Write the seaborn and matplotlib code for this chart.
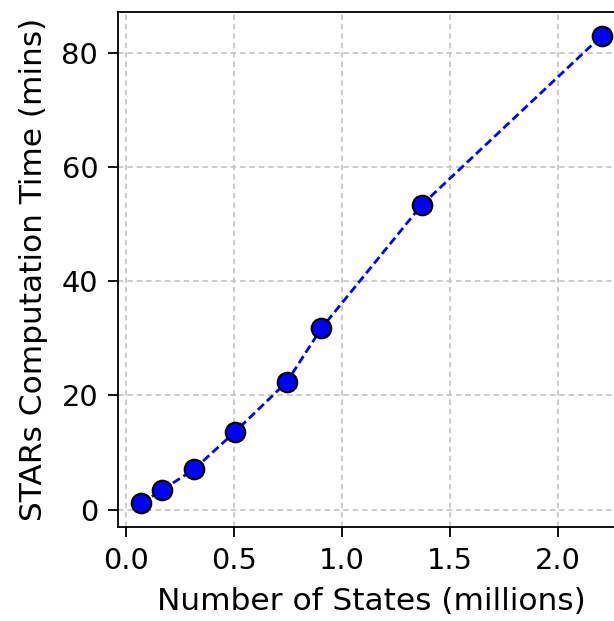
import pandas as pd
import seaborn as sns
import matplotlib
matplotlib.use('Agg')
import matplotlib.pyplot as plt

# states (millions) vs computation time (mins)
num_states = [0.07, 0.167, 0.314, 0.505, 0.745, 0.904, 1.37, 2.203]
comp_time = [1.1, 3.45, 7.05, 13.65, 22.4, 31.75, 53.4, 83.0]

df = pd.DataFrame({'states': num_states, 'time': comp_time})

sns.set_style('ticks')
plt.rcParams['font.family'] = ['DejaVu Sans']
plt.rcParams['text.color'] = 'black'
plt.rcParams['axes.labelcolor'] = 'black'
plt.rcParams['xtick.color'] = 'black'
plt.rcParams['ytick.color'] = 'black'

fig = plt.figure(figsize=(6.14, 6.21), dpi=100)
ax = fig.add_axes([0.1927, 0.1519, 0.8247, 0.828])

sns.lineplot(data=df, x='states', y='time', ax=ax, color='blue',
             linewidth=2, dashes=False, marker='o', markersize=14,
             markerfacecolor='blue', markeredgecolor='black',
             markeredgewidth=1.6, zorder=3)
ax.lines[0].set_dashes((3, 1.5))

ax.grid(True, linestyle=(0, (3, 2.2)), color='#c8c8c8', linewidth=1.3)
ax.set_axisbelow(True)
ax.set_xlabel('Number of States (millions)', fontsize=22.5, labelpad=9)
ax.set_ylabel('STARs Computation Time (mins)', fontsize=22.5, labelpad=10)
ax.set_xticks([0.0, 0.5, 1.0, 1.5, 2.0])
ax.set_yticks([0, 20, 40, 60, 80])
ax.tick_params(labelsize=20.8, length=7, width=1.3, pad=7.5)
for s in ax.spines.values():
    s.set_linewidth(1.3)
    s.set_color('black')

fig.savefig('out.png', dpi=100)
